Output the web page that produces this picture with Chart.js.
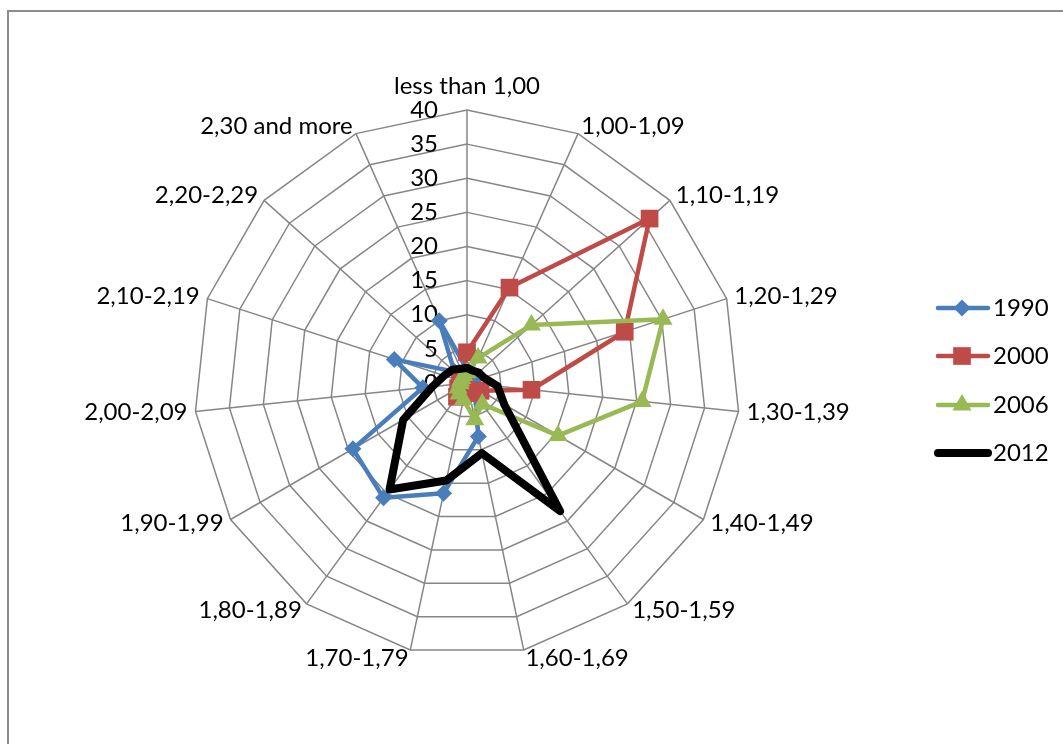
<!DOCTYPE html>
<html>
<head>
<meta charset="utf-8">
<script src="https://cdn.jsdelivr.net/npm/chart.js"></script>
<style>
  body { margin: 0; background: #fff; }
  #wrap { position: relative; width: 1063px; height: 744px; overflow: hidden; }
  #frame { position: absolute; left: 7px; top: 10px; width: 2000px; height: 2000px;
           border-left: 2px solid #8c8c8c; border-top: 2px solid #8c8c8c; }
  #radar { position: absolute; left: 0; top: 0; }
</style>
</head>
<body>
<div id="wrap">
  <div id="frame"></div>
  <canvas id="radar" width="1063" height="744"></canvas>
</div>
<script>
const categories = ['less than 1,00', '1,00-1,09', '1,10-1,19', '1,20-1,29', '1,30-1,39',
  '1,40-1,49', '1,50-1,59', '1,60-1,69', '1,70-1,79', '1,80-1,89', '1,90-1,99',
  '2,00-2,09', '2,10-2,19', '2,20-2,29', '2,30 and more']

const v1990 = [2, 1.5, 1, 1, 1, 1.5, 2, 8, 16.5, 20.8, 19.3, 6.5, 11.2, 2.5, 10]
const v2000 = [4.5, 15.3, 36, 24.3, 9.5, 2.3, 1.5, 1.5, 1.5, 2.5, 1.5, 1, 1, 1, 1]
const v2006 = [1.5, 4, 12.7, 30.2, 25.8, 15.4, 3.8, 5.5, 2.5, 2, 1.5, 1, 1, 1, 1.2]
const v2012 = [2.2, 2, 2.3, 2.6, 4.5, 6.3, 23.2, 10.5, 14.6, 19.3, 10.8, 5.1, 3.5, 2.9, 2.3]

const tickValues = [0, 5, 10, 15, 20, 25, 30, 35, 40]

const font = '24px Lato'
const gridColor = '#868686'

// tick numbers sit left of the vertical axis, behind the series
const tickLabels = {
  id: 'tickLabels',
  beforeDatasetsDraw(chart) {
    const scale = chart.scales.r
    const ctx = chart.ctx
    ctx.save()
    ctx.font = font
    ctx.fillStyle = '#000'
    ctx.textAlign = 'right'
    ctx.textBaseline = 'middle'
    tickValues.forEach(v => {
      const y = scale.yCenter - scale.getDistanceFromCenterForValue(v)
      ctx.fillText(String(v), scale.xCenter - 29, y)
    })
    ctx.restore()
  }
}

// category labels placed next to the outer vertices
const spokeLabels = {
  id: 'spokeLabels',
  afterDraw(chart) {
    const scale = chart.scales.r
    const ctx = chart.ctx
    ctx.save()
    ctx.font = font
    ctx.fillStyle = '#000'
    categories.forEach((label, i) => {
      const a = scale.getIndexAngle(i)
      const p = scale.getPointPosition(i, scale.drawingArea + 8)
      const s = Math.sin(a)
      if (Math.abs(s) < 0.05) {
        ctx.textAlign = 'center'
        ctx.textBaseline = 'alphabetic'
        ctx.fillText(label, p.x, p.y - 8)
      } else {
        ctx.textAlign = s > 0 ? 'left' : 'right'
        ctx.textBaseline = 'middle'
        ctx.fillText(label, p.x, p.y)
      }
    })
    ctx.restore()
  }
}

const legendBox = {
  id: 'legendBox',
  afterDraw(chart) {
    const ctx = chart.ctx
    const rows = [308, 356, 405, 453]
    ctx.save()
    chart.data.datasets.forEach((ds, i) => {
      const y = rows[i]
      ctx.strokeStyle = ds.borderColor
      ctx.lineWidth = ds.borderWidth
      ctx.lineCap = 'round'
      ctx.beginPath()
      ctx.moveTo(938, y)
      ctx.lineTo(988, y)
      ctx.stroke()
      if (ds.pointRadius > 0) {
        ctx.fillStyle = ds.pointBackgroundColor
        ctx.strokeStyle = ds.pointBackgroundColor
        Chart.helpers.drawPoint(ctx, {pointStyle: ds.pointStyle, radius: ds.pointRadius, rotation: 0, borderWidth: 0}, 962, y)
      }
      ctx.font = font
      ctx.fillStyle = '#000'
      ctx.textAlign = 'left'
      ctx.textBaseline = 'middle'
      ctx.fillText(ds.label, 993, y)
    })
    ctx.restore()
  }
}

function series(label, data, color, width, style, radius, order) {
  return {
    label: label,
    data: data,
    borderColor: color,
    borderWidth: width,
    borderJoinStyle: 'round',
    pointStyle: style,
    pointRadius: radius,
    pointHoverRadius: radius,
    pointBackgroundColor: color,
    pointBorderColor: color,
    pointBorderWidth: 0,
    fill: false,
    tension: 0,
    order: order
  }
}

new Chart(document.getElementById('radar').getContext('2d'), {
  type: 'radar',
  data: {
    labels: categories,
    datasets: [
      series('1990', v1990, '#4A7EBB', 4.5, 'rectRot', 8.5, 4),
      series('2000', v2000, '#BE4B48', 4.5, 'rect', 12.5, 3),
      series('2006', v2006, '#98B954', 4.5, 'triangle', 11, 2),
      series('2012', v2012, '#000000', 8, 'circle', 0, 1)
    ]
  },
  options: {
    responsive: false,
    animation: false,
    layout: { padding: { left: 194, right: 323, top: 110, bottom: 88 } },
    plugins: {
      legend: { display: false },
      tooltip: { enabled: false }
    },
    scales: {
      r: {
        min: tickValues[0],
        max: tickValues[tickValues.length - 1],
        ticks: { display: false, stepSize: 5 },
        pointLabels: { display: false },
        grid: { color: gridColor, lineWidth: 1.5 },
        angleLines: { color: gridColor, lineWidth: 1.5 }
      }
    }
  },
  plugins: [tickLabels, spokeLabels, legendBox]
})
</script>
</body>
</html>
